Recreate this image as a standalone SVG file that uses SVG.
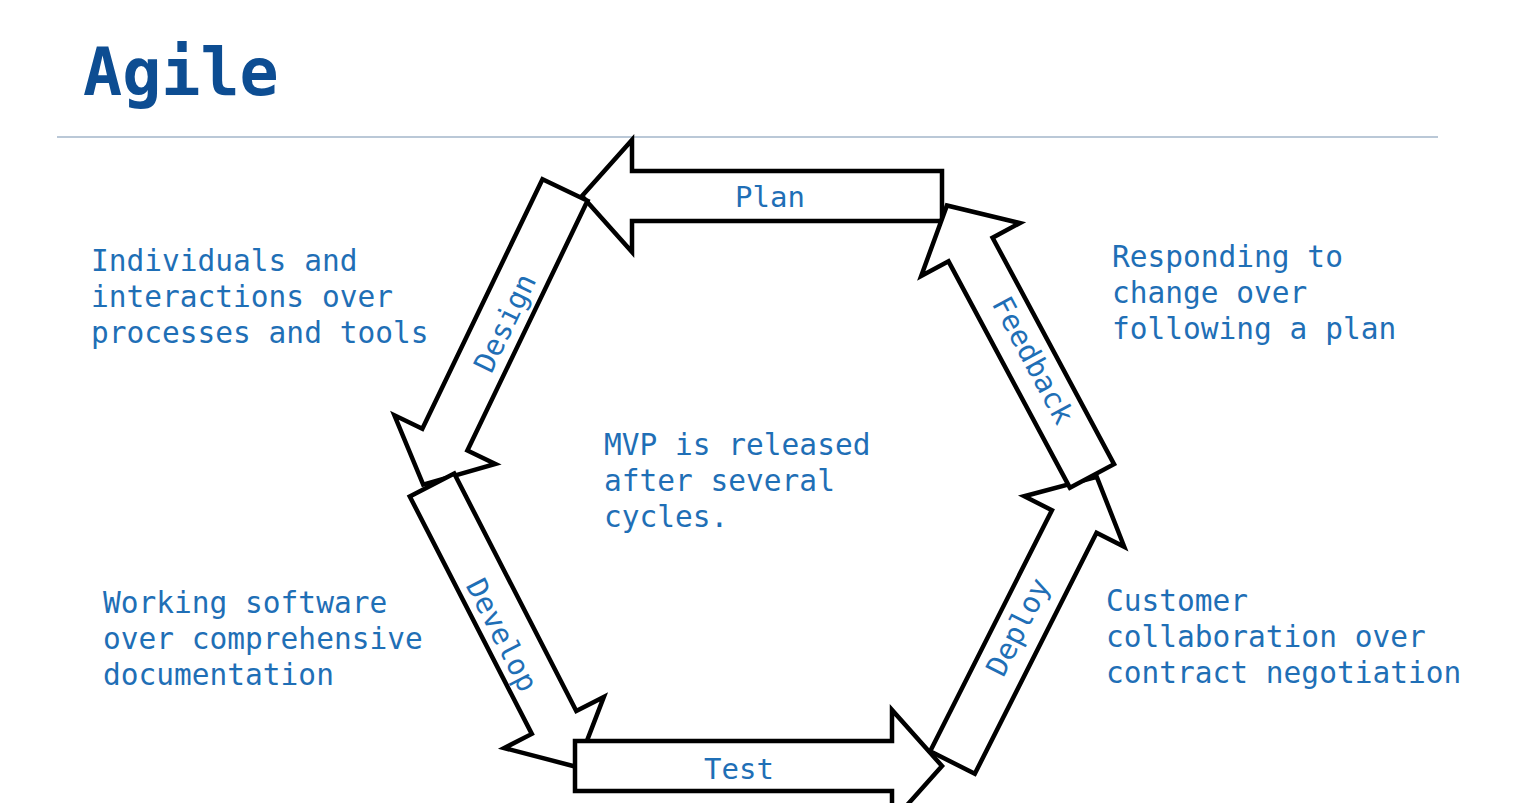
<svg xmlns="http://www.w3.org/2000/svg" width="1523" height="803" viewBox="0 0 1523 803">
  <style>
    .arrow { fill: #ffffff; stroke: #000000; stroke-width: 4.5; stroke-linejoin: miter; stroke-miterlimit: 10; }
    .txt { font-family: "DejaVu Sans Mono", "Liberation Mono", monospace; font-size: 29.5px; fill: #1f6fb6; }
    .lbl { font-family: "DejaVu Sans Mono", "Liberation Mono", monospace; font-size: 29px; fill: #1f6fb6; text-anchor: middle; }
    .title { font-family: "DejaVu Sans Mono", "Liberation Mono", monospace; font-size: 65px; font-weight: bold; fill: #0d4d92; }
  </style>
  <rect x="0" y="0" width="1523" height="803" fill="#ffffff"/>

  <g id="title">
    <text class="title" x="83" y="95">Agile</text>
    <line x1="57" y1="137" x2="1438" y2="137" stroke="#a3b6ca" stroke-width="1.5"/>
  </g>

  <g id="connectors">
    <g id="plan">
      <polygon class="arrow" transform="translate(942,196) rotate(180)" points="0,-25 310,-25 310,-56 360,0 310,56 310,25 0,25"/>
      <text class="lbl" x="770" y="207">Plan</text>
    </g>
    <g id="design">
      <polygon class="arrow" transform="translate(565,190) rotate(115.7)" points="0,-25 277,-25 277,-56 327,0 277,56 277,25 0,25"/>
      <text class="lbl" transform="translate(505,323) rotate(-64.3)" x="0" y="10">Design</text>
    </g>
    <g id="develop">
      <polygon class="arrow" transform="translate(432,485) rotate(62.8)" points="0,-25 267,-25 267,-56 317,0 267,56 267,25 0,25"/>
      <text class="lbl" transform="translate(502,635) rotate(62.8)" x="0" y="10">Develop</text>
    </g>
    <g id="test">
      <polygon class="arrow" transform="translate(575,766)" points="0,-25 317,-25 317,-56 367,0 317,56 317,25 0,25"/>
      <text class="lbl" x="739" y="779">Test</text>
    </g>
    <g id="deploy">
      <polygon class="arrow" transform="translate(952.5,762.5) rotate(-63.2)" points="0,-25 270,-25 270,-56 320,0 270,56 270,25 0,25"/>
      <text class="lbl" transform="translate(1018,627) rotate(-63.2)" x="0" y="10">Deploy</text>
    </g>
    <g id="feedback">
      <polygon class="arrow" transform="translate(1092,476) rotate(-118.2)" points="0,-25 257,-25 257,-56 307,0 257,56 257,25 0,25"/>
      <text class="lbl" transform="translate(1033,360) rotate(61.8)" x="0" y="10">Feedback</text>
    </g>
  </g>

  <g id="individuals">
    <text class="txt" x="91" y="271">Individuals and</text>
    <text class="txt" x="91" y="307">interactions over</text>
    <text class="txt" x="91" y="343">processes and tools</text>
  </g>
  <g id="responding">
    <text class="txt" x="1112" y="267">Responding to</text>
    <text class="txt" x="1112" y="303">change over</text>
    <text class="txt" x="1112" y="339">following a plan</text>
  </g>
  <g id="mvp">
    <text class="txt" x="604" y="455">MVP is released</text>
    <text class="txt" x="604" y="491">after several</text>
    <text class="txt" x="604" y="527">cycles.</text>
  </g>
  <g id="working">
    <text class="txt" x="103" y="613">Working software</text>
    <text class="txt" x="103" y="649">over comprehensive</text>
    <text class="txt" x="103" y="685">documentation</text>
  </g>
  <g id="customer">
    <text class="txt" x="1106" y="611">Customer</text>
    <text class="txt" x="1106" y="647">collaboration over</text>
    <text class="txt" x="1106" y="683">contract negotiation</text>
  </g>
</svg>
